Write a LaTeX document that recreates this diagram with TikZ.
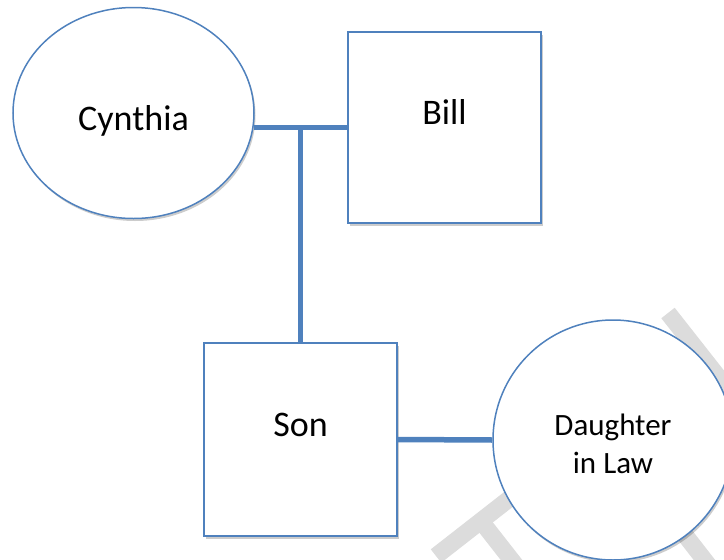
\documentclass[tikz,border=0pt]{standalone}
\usepackage{fontspec}
\setmainfont{Carlito}
\usetikzlibrary{shapes,shadows}
\definecolor{lineblue}{HTML}{4F81BD}
\definecolor{wmgray}{HTML}{DCDCDC}
\newcommand{\namefont}{\fontsize{36}{43}\selectfont}
\newcommand{\smallnamefont}{\fontsize{31}{38}\selectfont}

\begin{document}
\begin{tikzpicture}[x=1pt,y=-1pt,
	person/.style={draw=lineblue, line width=1.5pt, fill=white, inner sep=0pt,
		drop shadow={shadow xshift=1.5pt,shadow yshift=-2.5pt,fill=black,opacity=0.2}},
	male/.style={person, rectangle, minimum width=193pt, minimum height=191pt},
	female/.style={person, ellipse},
	tie/.style={draw=lineblue, line width=5.5pt},
	wmark/.style={draw=wmgray, line width=17pt}]
	\clip (0,0) rectangle (724,560);
	% faint watermark behind the chart
	\draw[wmark] (436,556) -- (550,467);
	\draw[wmark] (481,521) -- (535,590);
	\draw[wmark] (668,313) -- (745,411);
	\draw[wmark] (650,490) -- (720,580);
	% parents
	\node at (133.5,113) [female, minimum width=241pt, minimum height=211pt, label={[yshift=-8pt, font=\namefont]center:Cynthia}] (cynthia) {};
	\node at (444.5,127.5) [male, label={[yshift=15.5pt, font=\namefont]center:Bill}] (bill) {};
	% children
	\node at (300.5,439.5) [male, minimum height=193pt, label={[yshift=15pt, font=\namefont]center:Son}] (son) {};
	\node at (613,440) [female, circle, minimum size=240pt, label={[yshift=-4pt, font=\smallnamefont, align=center]center:Daughter\\in Law}] (dil) {};
	% ties
	\coordinate (mid) at (cynthia.-7 -| son.north);
	\draw[tie] (cynthia.-7) -- (cynthia.-7 -| bill.west);
	\draw[tie] (mid) -- (son.north);
	\draw[tie] (son.east) -- (dil.west);
\end{tikzpicture}
\end{document}
